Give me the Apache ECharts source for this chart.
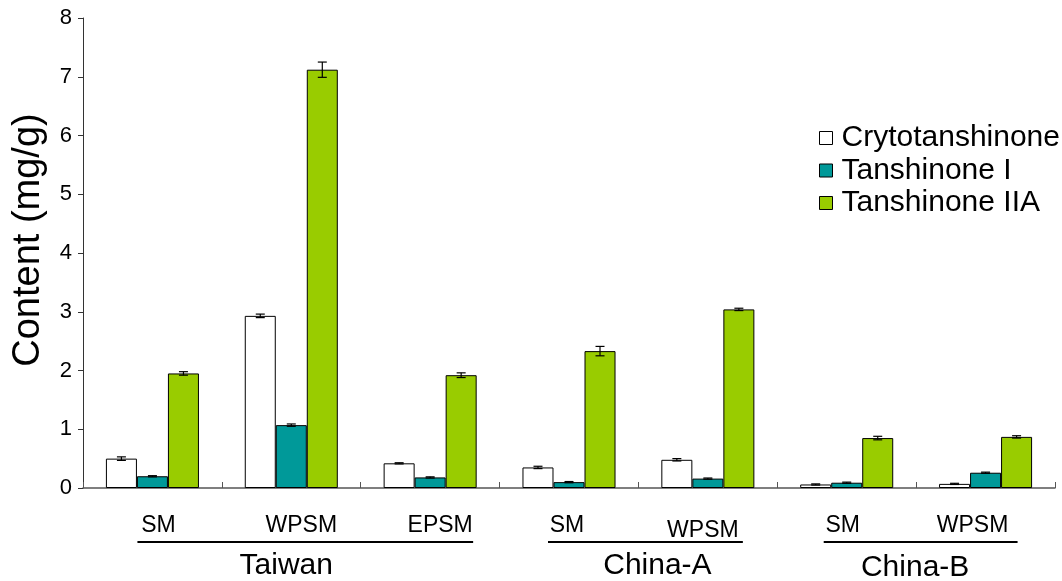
<!DOCTYPE html>
<html><head><meta charset="utf-8">
<script src="https://cdn.jsdelivr.net/npm/echarts@6/dist/echarts.min.js"></script>
<style>html,body{margin:0;padding:0;background:#fff}#c{width:1062px;height:581px}</style>
</head><body><div id="c"></div>
<script>
const categories = ['SM','WPSM','EPSM','SM','WPSM','SM','WPSM'];
const groupNames = ['Taiwan','China-A','China-B'];
const groupFirst = [0,3,5];
const groupLast = [2,4,6];
const seriesNames = ['Crytotanshinone','Tanshinone I','Tanshinone IIA'];
const crypto = [0.50,2.93,0.42,0.35,0.48,0.06,0.07];
const tanI = [0.20,1.07,0.18,0.10,0.16,0.09,0.26];
const tanIIA = [1.95,7.12,1.92,2.33,3.04,0.85,0.87];
const cryptoErr = [0.03,0.03,0.01,0.02,0.02,0.01,0.01];
const tanIErr = [0.01,0.02,0.01,0.01,0.01,0.01,0.01];
const tanIIAErr = [0.03,0.13,0.04,0.08,0.02,0.03,0.02];
const yMin = 0, yMax = 8, yInterval = 1;

// styling (not data)
const seriesColors = ['#ffffff','#009999','#99cc00'];
const labelShiftX = [6,10,10,-2,-5,-4,-13];
const labelShiftY = [0,0,0,0,5,0,0];
const lineLeftOff = [-15,-21,-23];
const lineRightOff = [43,35,32];
const groupLabelShift = [-5,19,-1];
const groupLabelDy = [0,0,2];

const values = [crypto, tanI, tanIIA];
const errs = [cryptoErr, tanIErr, tanIIAErr];
const FONT = '"Liberation Sans", Arial, sans-serif';
const GAP = 0.33;

const chart = echarts.init(document.getElementById('c'), null, {renderer:'canvas'});

const barSeries = values.map((v,i)=>({
  name: seriesNames[i], type:'bar', data: v,
  barGap: '0%', barCategoryGap: (GAP*100)+'%',
  itemStyle: {color: seriesColors[i], borderColor:'#000', borderWidth:1},
  z: 2
}));

const errSeries = values.map((v,i)=>({
  type:'custom', name: seriesNames[i]+' err', z: 5, silent:true,
  data: v.map((val,k)=>[k, val, errs[i][k]]),
  renderItem: function(params, api){
    const k = api.value(0), val = api.value(1), e = api.value(2);
    const bw = api.size([1,0])[0]*(1-GAP)/3;
    const cx = api.coord([k, val])[0] + (i-1)*bw;
    const yt = api.coord([k, val+e])[1];
    const yb = api.coord([k, val-e])[1];
    const cap = 4.5;
    const st = {stroke:'#000', lineWidth:1.2};
    return {type:'group', children:[
      {type:'line', shape:{x1:cx,y1:yt,x2:cx,y2:yb}, style:st},
      {type:'line', shape:{x1:cx-cap,y1:yt,x2:cx+cap,y2:yt}, style:st},
      {type:'line', shape:{x1:cx-cap,y1:yb,x2:cx+cap,y2:yb}, style:st}
    ]};
  }
}));

const catData = categories.map((c,k)=>({
  value: c,
  textStyle: {padding:[Math.max(0,labelShiftY[k]),
                      Math.max(0,-labelShiftX[k]*2),
                      0,
                      Math.max(0,labelShiftX[k]*2)]}
}));

chart.setOption({
  animation:false,
  backgroundColor:'#fff',
  textStyle:{fontFamily:FONT},
  grid:{left:83, right:7, top:18, bottom:93},
  legend:{
    data: seriesNames, orient:'vertical', left:814, top:118,
    itemWidth:13, itemHeight:13, itemGap:2.5, icon:'rect',
    itemStyle:{borderColor:'#000', borderWidth:1},
    textStyle:{fontSize:30, lineHeight:30, color:'#000', fontFamily:FONT, padding:[0,0,0,4]}
  },
  xAxis:{
    type:'category', data: catData,
    axisLine:{lineStyle:{color:'#555', width:1.5}},
    axisTick:{show:true, inside:true, length:6, lineStyle:{color:'#555'}},
    axisLabel:{fontSize:23, color:'#000', margin:26, fontFamily:FONT, interval:0, verticalAlign:'top'}
  },
  yAxis:{
    type:'value', min:yMin, max:yMax, interval:yInterval,
    name:'Content (mg/g)', nameLocation:'middle', nameGap:35, nameRotate:90,
    nameTextStyle:{fontSize:38, color:'#000', fontFamily:FONT, padding:[0,0,0,26]},
    axisLine:{show:true, lineStyle:{color:'#333', width:1}},
    axisTick:{show:true, length:5, lineStyle:{color:'#333'}},
    axisLabel:{fontSize:22, color:'#000', margin:11, fontFamily:FONT},
    splitLine:{show:false}
  },
  series: barSeries.concat(errSeries)
});

// group brackets and labels
const gEls = [];
const yAxisPix = chart.convertToPixel({yAxisIndex:0}, 0);
groupNames.forEach((g, gi)=>{
  const x1 = chart.convertToPixel({xAxisIndex:0}, groupFirst[gi]);
  const x2 = chart.convertToPixel({xAxisIndex:0}, groupLast[gi]);
  gEls.push({type:'line', shape:{x1:x1+lineLeftOff[gi], y1:yAxisPix+54, x2:x2+lineRightOff[gi], y2:yAxisPix+54},
    style:{stroke:'#000', lineWidth:2.2}});
  gEls.push({type:'text', x:(x1+x2)/2 + groupLabelShift[gi], y:yAxisPix+78+groupLabelDy[gi],
    style:{text:g, font:'30px '+FONT, fill:'#000', textAlign:'center', textVerticalAlign:'middle'}});
});
chart.setOption({graphic:{elements:gEls}});
</script>
</body></html>
